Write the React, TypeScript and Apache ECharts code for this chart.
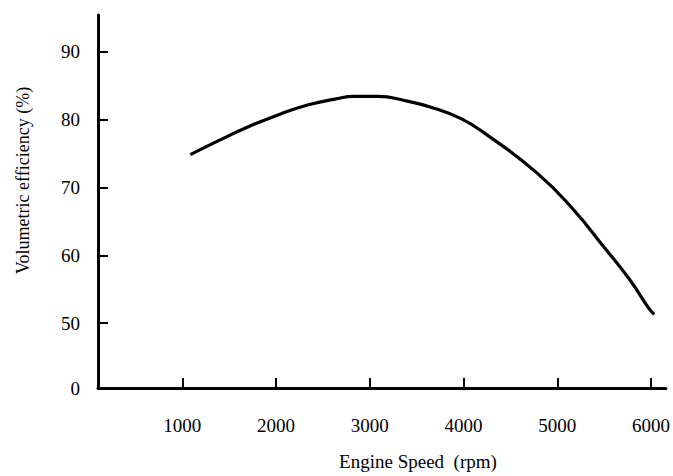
import React, { useEffect, useRef } from "react";
import * as echarts from "echarts";

const speedRpm = [1085, 1392, 1710, 2028, 2345, 2628, 2838, 3087, 3369, 3686, 3968, 4216, 4782, 5171, 5489, 5770, 5983, 6035];
const volEff = [74.85, 76.95, 79.0, 80.74, 82.2, 83.04, 83.43, 83.43, 82.84, 81.7, 80.2, 78.1, 72.16, 66.76, 61.37, 56.47, 52.06, 51.3];
const yTickValues = [50, 60, 70, 80, 90];
const yAxisMin = 40.44;
const yAxisMax = 95.44;
const xTickValues = [1000, 2000, 3000, 4000, 5000, 6000];
const xAxisMin = 100;
const xAxisMax = 6159;

const FONT = "'Liberation Serif', 'Times New Roman', serif";

export default function App() {
  const ref = useRef<HTMLDivElement>(null);
  useEffect(() => {
    document.body.style.margin = "0";
    if (!ref.current) return;
    const chart = echarts.init(ref.current, null, { renderer: "svg" });
    chart.setOption({
      animation: false,
      backgroundColor: "#ffffff",
      grid: { left: 98, top: 15, right: 3, bottom: 87, containLabel: false },
      xAxis: {
        type: "value",
        min: xAxisMin,
        max: xAxisMax,
        name: "Engine Speed  (rpm)",
        nameLocation: "middle",
        nameGap: 64,
        nameTextStyle: { fontFamily: FONT, fontSize: 19, color: "#000", padding: [0, 0, 0, 72] },
        axisLine: { lineStyle: { color: "#000", width: 3 } },
        axisTick: { show: true, inside: true, length: 10, customValues: xTickValues, lineStyle: { color: "#000", width: 2 } },
        axisLabel: {
          customValues: xTickValues,
          margin: 28,
          fontFamily: FONT,
          fontSize: 19,
          color: "#000",
          formatter: (v: number) => String(Math.round(v)),
        },
        splitLine: { show: false },
      },
      yAxis: {
        type: "value",
        min: yAxisMin,
        max: yAxisMax,
        name: "Volumetric efficiency (%)",
        nameLocation: "middle",
        nameGap: 66,
        nameTextStyle: { fontFamily: FONT, fontSize: 18, color: "#000", padding: [0, 0, 0, 42] },
        axisLine: { show: true, lineStyle: { color: "#000", width: 3 } },
        axisTick: { show: true, inside: true, length: 10, customValues: yTickValues, lineStyle: { color: "#000", width: 2 } },
        axisLabel: {
          customValues: [yAxisMin, ...yTickValues],
          margin: 18,
          fontFamily: FONT,
          fontSize: 19,
          color: "#000",
          formatter: (v: number) => (Math.abs(v - yAxisMin) < 0.01 ? "0" : String(Math.round(v))),
        },
        splitLine: { show: false },
      },
      series: [
        {
          type: "line",
          data: speedRpm.map((x, i) => [x, volEff[i]]),
          smooth: 0.5,
          showSymbol: false,
          lineStyle: { color: "#000", width: 3.2 },
        },
      ],
    });
    return () => chart.dispose();
  }, []);
  return <div ref={ref} style={{ width: 673, height: 476 }} />;
}
